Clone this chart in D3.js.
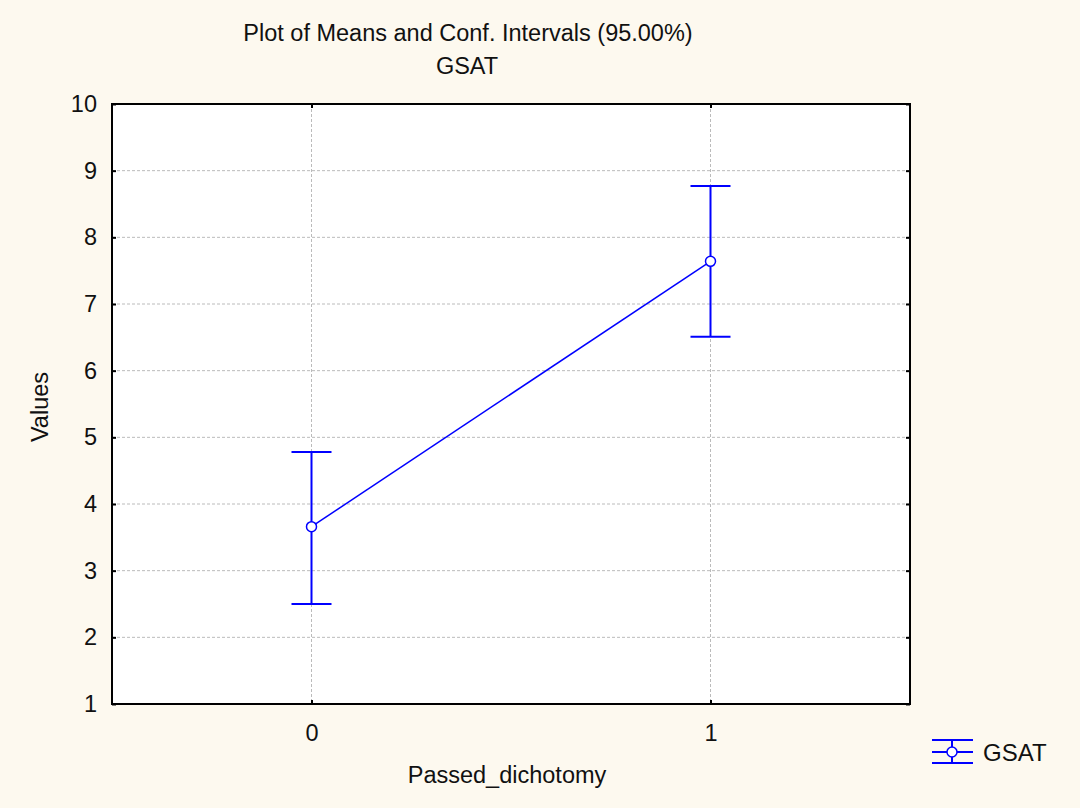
<!DOCTYPE html>
<html>
<head>
<meta charset="utf-8">
<script src="https://cdn.jsdelivr.net/npm/d3@7"></script>
<style>
  body { margin: 0; background: #fdf9ef; }
  svg { display: block; }
  text { font-family: "Liberation Sans", Arial, sans-serif; fill: #111; }
</style>
</head>
<body>
<div id="chart"></div>
<script>
// data
var categories = [0, 1];
var means = [3.66, 7.64];
var upper = [4.78, 8.77];
var lower = [2.50, 6.51];
var yTicks = [1, 2, 3, 4, 5, 6, 7, 8, 9, 10];
var seriesName = 'GSAT';

const W = 1080, H = 808;
const margin = { left: 112, right: 170, top: 104, bottom: 104 };
const BLUE = '#0000ff';
const CAP = 20;
const FS = 23.5;

var svg = d3.select('#chart').append('svg')
  .attr('width', W)
  .attr('height', H);

svg.append('rect').attr('width', W).attr('height', H).attr('fill', '#fdf9ef');

var x = d3.scaleLinear().domain([-0.5, 1.5]).range([margin.left, W - margin.right]);
var y = d3.scaleLinear().domain([1, 10]).range([H - margin.bottom, margin.top]);

// plot background
svg.append('rect')
  .attr('x', x(-0.5)).attr('y', y(10))
  .attr('width', x(1.5) - x(-0.5)).attr('height', y(1) - y(10))
  .attr('fill', '#fff');

// grid lines
svg.selectAll('line.hgrid')
  .data(yTicks.slice(1, -1))
  .enter().append('line')
  .attr('class', 'hgrid')
  .attr('x1', x(-0.5)).attr('x2', x(1.5))
  .attr('y1', (d) => y(d)).attr('y2', (d) => y(d))
  .attr('stroke', '#bbb').attr('stroke-dasharray', '3,2').attr('stroke-width', 1);

svg.selectAll('line.vgrid')
  .data(categories)
  .enter().append('line')
  .attr('class', 'vgrid')
  .attr('x1', (d) => x(d)).attr('x2', (d) => x(d))
  .attr('y1', y(10)).attr('y2', y(1))
  .attr('stroke', '#bbb').attr('stroke-dasharray', '3,2').attr('stroke-width', 1);

// axes (ticks inward)
var yAxisL = d3.axisLeft(y).tickValues(yTicks).tickSizeInner(-4).tickSizeOuter(0).tickPadding(15);
var yAxisR = d3.axisRight(y).tickValues(yTicks).tickSizeInner(-4).tickSizeOuter(0).tickFormat('');
var xAxisB = d3.axisBottom(x).tickValues(categories).tickSizeInner(-4).tickSizeOuter(0).tickPadding(20).tickFormat(d3.format('d'));
var xAxisT = d3.axisTop(x).tickValues(categories).tickSizeInner(-4).tickSizeOuter(0).tickFormat('');

function styleAxis(g) {
  g.select('.domain').remove();
  g.selectAll('.tick line').attr('stroke', '#000').attr('stroke-width', 2);
  g.selectAll('.tick text').attr('font-size', FS).attr('fill', '#111')
    .attr('font-family', '"Liberation Sans", Arial, sans-serif');
}

svg.append('g').attr('transform', `translate(${x(-0.5)},0)`).call(yAxisL).call(styleAxis);
svg.append('g').attr('transform', `translate(${x(1.5)},0)`).call(yAxisR).call(styleAxis);
svg.append('g').attr('transform', `translate(0,${y(1)})`).call(xAxisB).call(styleAxis);
svg.append('g').attr('transform', `translate(0,${y(10)})`).call(xAxisT).call(styleAxis);

// frame
svg.append('rect')
  .attr('x', x(-0.5)).attr('y', y(10))
  .attr('width', x(1.5) - x(-0.5)).attr('height', y(1) - y(10))
  .attr('fill', 'none').attr('stroke', '#000').attr('stroke-width', 2);

// mean line
var pts = categories.map((c, i) => [x(c), y(means[i])]);
svg.append('path')
  .attr('d', d3.line()(pts))
  .attr('fill', 'none').attr('stroke', BLUE).attr('stroke-width', 1.5);

// error bars
var bars = svg.selectAll('g.ebar')
  .data(categories)
  .enter().append('g')
  .attr('class', 'ebar');

bars.append('line')
  .attr('x1', (d) => x(d)).attr('x2', (d) => x(d))
  .attr('y1', (d, i) => y(upper[i])).attr('y2', (d, i) => y(lower[i]))
  .attr('stroke', BLUE).attr('stroke-width', 2);
bars.append('line')
  .attr('x1', (d) => x(d) - CAP).attr('x2', (d) => x(d) + CAP)
  .attr('y1', (d, i) => y(upper[i])).attr('y2', (d, i) => y(upper[i]))
  .attr('stroke', BLUE).attr('stroke-width', 2);
bars.append('line')
  .attr('x1', (d) => x(d) - CAP).attr('x2', (d) => x(d) + CAP)
  .attr('y1', (d, i) => y(lower[i])).attr('y2', (d, i) => y(lower[i]))
  .attr('stroke', BLUE).attr('stroke-width', 2);
bars.append('circle')
  .attr('cx', (d) => x(d)).attr('cy', (d, i) => y(means[i]))
  .attr('r', 5)
  .attr('fill', '#fff').attr('stroke', BLUE).attr('stroke-width', 1.5);

// titles
svg.append('text').attr('x', 468).attr('y', 41).attr('text-anchor', 'middle')
  .attr('font-size', FS).text('Plot of Means and Conf. Intervals (95.00%)');
svg.append('text').attr('x', 467).attr('y', 74).attr('text-anchor', 'middle')
  .attr('font-size', FS).text(seriesName);
svg.append('text').attr('x', 507).attr('y', 783).attr('text-anchor', 'middle')
  .attr('font-size', FS).text('Passed_dichotomy');
svg.append('text')
  .attr('transform', 'translate(48,407) rotate(-90)')
  .attr('text-anchor', 'middle')
  .attr('font-size', FS).text('Values');

// legend
var lg = svg.append('g').attr('transform', 'translate(952,752)');
[-12, 0, 11].forEach((dy) => {
  lg.append('line').attr('x1', -20).attr('x2', 21).attr('y1', dy).attr('y2', dy)
    .attr('stroke', BLUE).attr('stroke-width', 2);
});
lg.append('line').attr('x1', 0).attr('x2', 0).attr('y1', -12).attr('y2', 11)
  .attr('stroke', BLUE).attr('stroke-width', 2);
lg.append('circle').attr('r', 5).attr('fill', '#fff').attr('stroke', BLUE).attr('stroke-width', 1.5);
lg.append('text').attr('x', 31).attr('y', 9).attr('font-size', 24).text(seriesName);
</script>
</body>
</html>
